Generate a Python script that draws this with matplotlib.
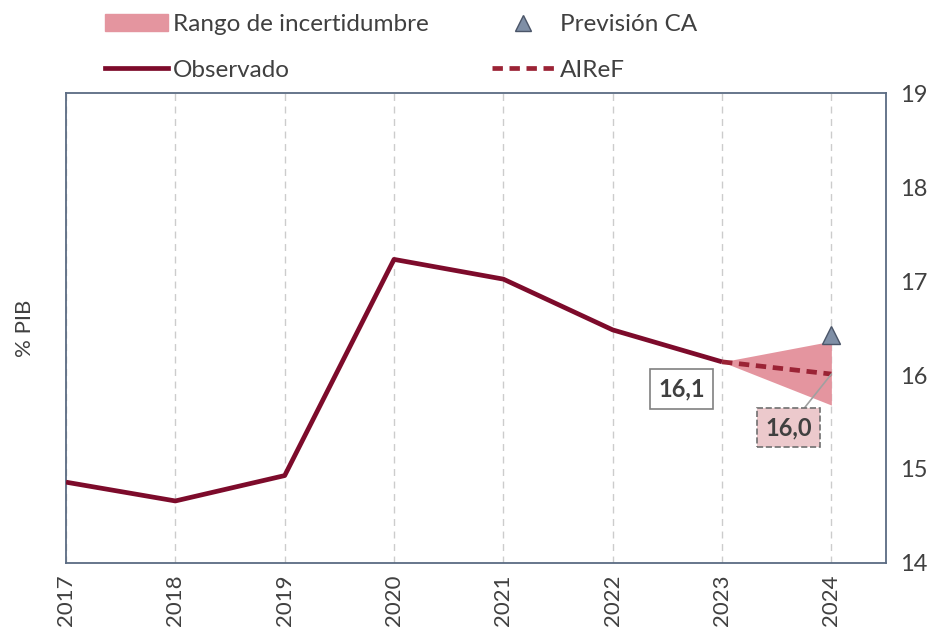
import matplotlib.pyplot as plt
from matplotlib.lines import Line2D
from matplotlib.patches import Patch

plt.rcParams['font.family'] = ['Lato', 'DejaVu Sans']

years = [2017, 2018, 2019, 2020, 2021, 2022, 2023]
observado = [14.86, 14.66, 14.93, 17.23, 17.02, 16.48, 16.14]
airef_years = [2023, 2024]
airef = [16.14, 16.01]
band_low = [16.14, 15.68]
band_high = [16.14, 16.36]
prevision_year = 2024
prevision_ca = 16.43

tick_years = list(range(2017, 2025))
y_ticks = [14, 15, 16, 17, 18, 19]

text_col = '#404040'
spine_col = '#5b6b82'
obs_col = '#7d0b2b'
airef_col = '#9b2335'
band_col = '#e4959f'

fig = plt.figure(figsize=(9.43, 6.35), dpi=100)
ax = fig.add_axes([0.070, 0.1134, 0.8696, 0.7401])

ax.fill_between(airef_years, band_low, band_high, color=band_col, lw=0, zorder=2)
ax.plot(years, observado, color=obs_col, lw=3.4, zorder=3, solid_capstyle='butt')
ax.plot(airef_years, airef, color=airef_col, lw=3.4, ls=(0, (2.2, 1.4)), zorder=3)
ax.plot([prevision_year], [prevision_ca], marker='^', ms=13, color='#7f8fa6',
        mec='#4a5568', mew=1, ls='none', zorder=4)

ax.set_xlim(2017, 2024.5)
ax.set_ylim(14, 19)
ax.set_xticks(tick_years)
ax.set_xticklabels([str(y) for y in tick_years], rotation=90, fontsize=16, color=text_col)
ax.set_yticks(y_ticks)
ax.set_yticklabels([str(v) for v in y_ticks], fontsize=17, color=text_col)
ax.yaxis.tick_right()
ax.yaxis.set_label_position('left')
ax.tick_params(axis='both', length=0)
ax.tick_params(axis='y', pad=10)
ax.tick_params(axis='x', pad=8)
ax.set_ylabel('% PIB', fontsize=16, color=text_col, labelpad=22)

ax.grid(axis='x', color='#cccccc', ls=(0, (5, 4)), lw=1)
ax.set_axisbelow(True)
for s in ax.spines.values():
    s.set_color(spine_col)
    s.set_linewidth(1.3)

# value labels
ax.annotate('16,1', xy=(years[-1], observado[-1]), xytext=(2022.63, 15.85),
            fontsize=17, fontweight='bold', color=text_col, ha='center', va='center',
            bbox=dict(boxstyle='square,pad=0.35', fc='white', ec='#808080', lw=1.2))
ax.annotate('16,0', xy=(airef_years[-1], airef[-1]), xytext=(2023.61, 15.44),
            fontsize=17, fontweight='bold', color=text_col, ha='center', va='center',
            bbox=dict(boxstyle='square,pad=0.35', fc='#ecc9cc', ec='#707070', lw=1.2, ls='--'),
            arrowprops=dict(arrowstyle='-', color='#a0a0a0', lw=1.2, shrinkA=0, shrinkB=0))

handles = [
    Patch(color=band_col, label='Rango de incertidumbre'),
    Line2D([], [], color=obs_col, lw=3.4, label='Observado'),
    Line2D([], [], marker='^', ms=11, color='#7f8fa6', mec='#4a5568', ls='none', label='Previsión CA'),
    Line2D([], [], color=airef_col, lw=3.4, ls=(0, (2.2, 1.4)), label='AIReF'),
]
leg = fig.legend(handles=handles, ncol=2, loc='upper left', bbox_to_anchor=(0.088, 1.012),
                 frameon=False, fontsize=17.5, handlelength=2.6, handletextpad=0.2,
                 columnspacing=2.6, labelspacing=1.0)
for t in leg.get_texts():
    t.set_color(text_col)

fig.savefig('out.png', dpi=100)
